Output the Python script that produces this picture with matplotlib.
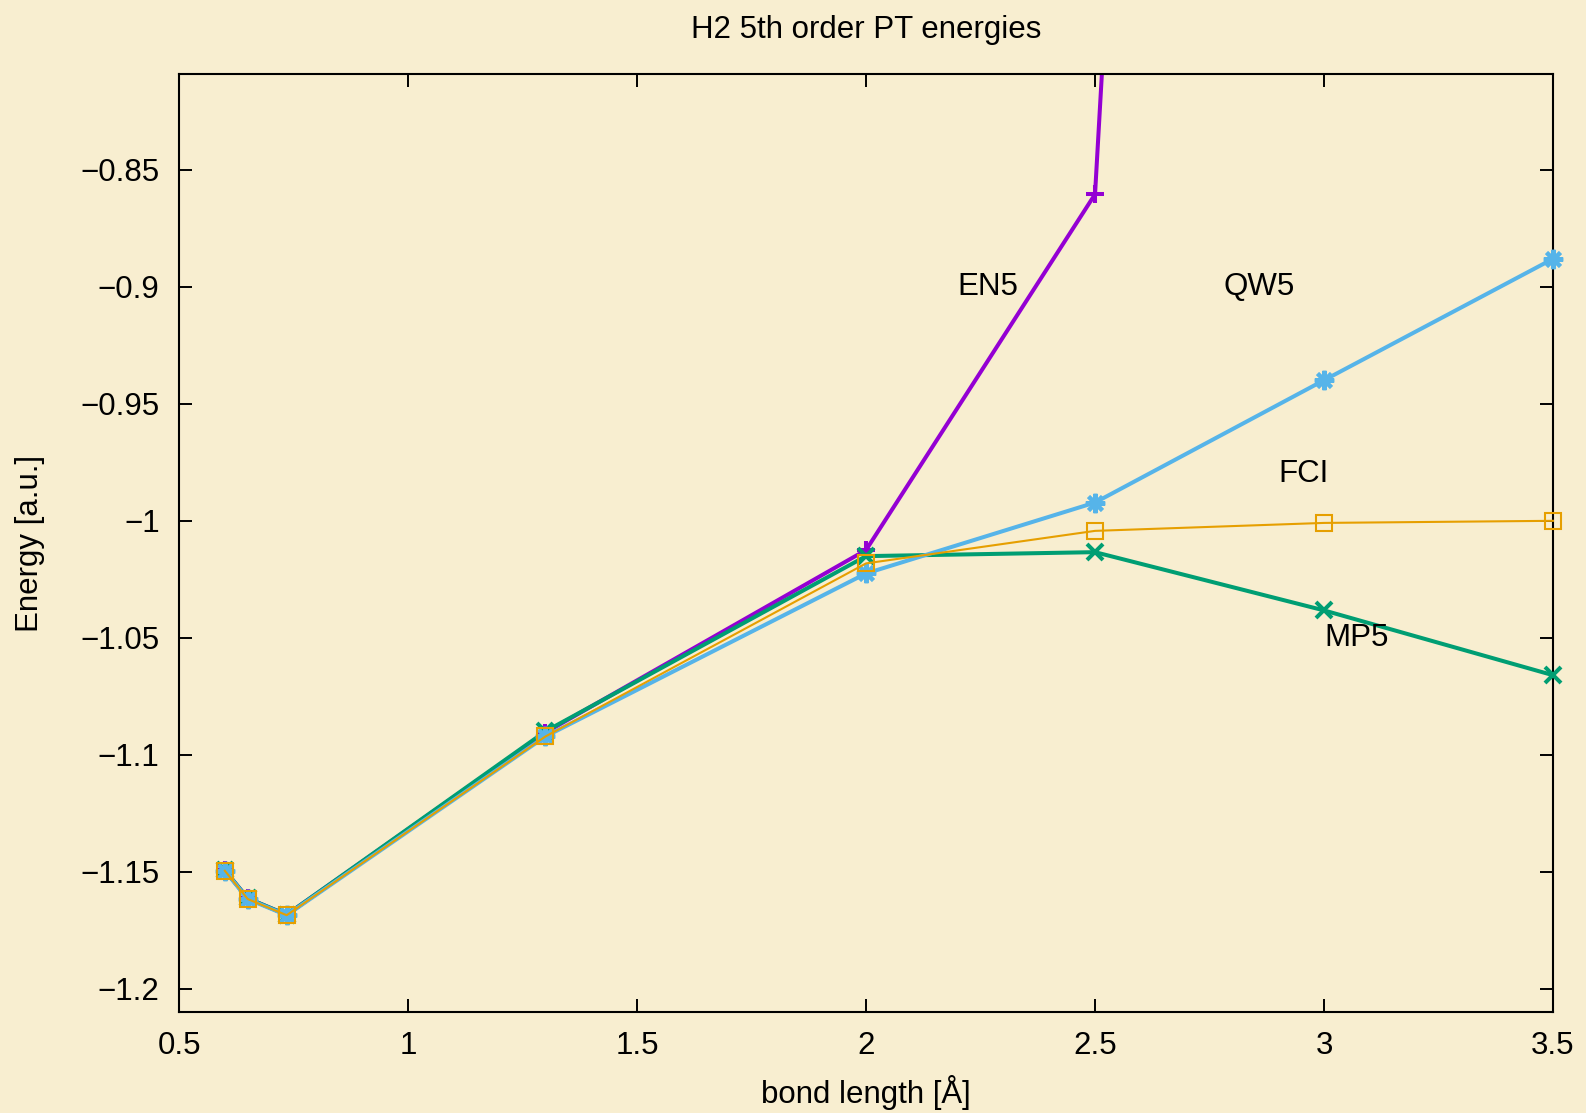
import numpy as np
import matplotlib.pyplot as plt

plt.rcParams['font.family'] = ['Liberation Sans', 'DejaVu Sans']

# bond lengths (Angstrom)
r = np.array([0.6, 0.65, 0.735, 1.3, 2.0, 2.5, 3.0, 3.5])

# energies (a.u.)
fci = np.array([-1.1496, -1.1617, -1.1686, -1.0922, -1.0182, -1.0043, -1.0009, -1.0000])
qw5 = np.array([-1.1496, -1.1617, -1.1686, -1.0922, -1.0225, -0.9922, -0.9399, -0.8880])
mp5 = np.array([-1.1494, -1.1614, -1.1684, -1.0900, -1.0151, -1.0134, -1.0383, -1.0660])
r_en5 = np.array([0.6, 0.65, 0.735, 1.3, 2.0, 2.5, 3.0])
en5 = np.array([-1.1494, -1.1614, -1.1684, -1.0905, -1.0125, -0.8604, 0.86])

xticks = [0.5, 1, 1.5, 2, 2.5, 3, 3.5]
yticks = [-1.2, -1.15, -1.1, -1.05, -1.0, -0.95, -0.9, -0.85]

fs = 22.5
bg = '#f8eed0'
fig = plt.figure(figsize=(15.86, 11.13), dpi=100, facecolor=bg)
ax = fig.add_axes([0.1129, 0.0907, 0.8663, 0.8428])
ax.set_facecolor(bg)

# EN5 runs off the top, so keep it clipped; the rest may overhang the frame
ax.plot(r_en5, en5, color='#9400d3', lw=2.9, marker='+', ms=13, mew=2.9, zorder=2)
ax.plot(r, mp5, color='#009e73', lw=2.9, marker='x', ms=11, mew=2.9, zorder=3,
        clip_on=False)
ax.plot(r, qw5, color='#56b4e9', lw=2.9, marker=(8, 2, 0), ms=14, mew=2.9,
        zorder=4, clip_on=False)
ax.plot(r, fci, color='#e69f00', lw=1.5, marker='s', ms=11, mew=1.5,
        mfc='none', zorder=5, clip_on=False)

ax.text(2.2, -0.9, 'EN5', fontsize=fs, va='center')
ax.text(2.78, -0.9, 'QW5', fontsize=fs, va='center')
ax.text(2.9, -0.98, 'FCI', fontsize=fs, va='center')
ax.text(3.0, -1.05, 'MP5', fontsize=fs, va='center')

ax.set_xlim(0.5, 3.5)
ax.set_ylim(-1.21, -0.809)
ax.set_xticks(xticks)
ax.set_xticklabels([f'{v:g}' for v in xticks])
ax.set_yticks(yticks)
ax.set_yticklabels([f'{v:g}'.replace('-', '\u2212') for v in yticks])
ax.tick_params(direction='in', length=9.4, width=1.4, labelsize=fs, pad=14,
               top=True, right=True)
for s in ax.spines.values():
    s.set_linewidth(1.5)

ax.set_xlabel('bond length [Å]', fontsize=fs, va='center')
ax.xaxis.set_label_coords(0.5, -0.0853)
ax.set_ylabel('Energy [a.u.]', fontsize=fs, va='center')
ax.yaxis.set_label_coords(-0.1084, 0.5)
ax.text(0.5, 1.047, 'H2 5th order PT energies', fontsize=fs, ha='center',
        va='center', transform=ax.transAxes)

fig.savefig('out.png', dpi=100, facecolor=bg)
